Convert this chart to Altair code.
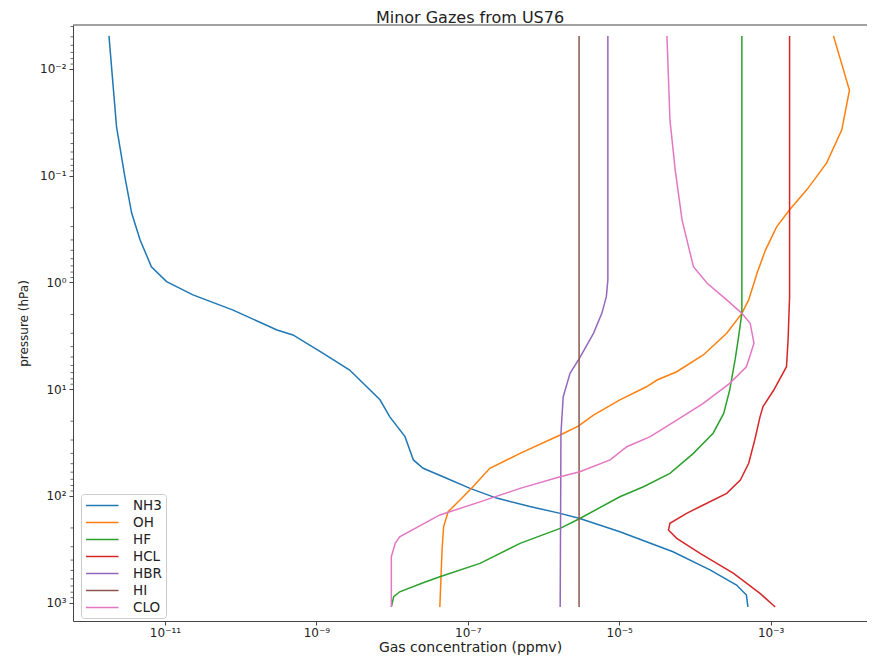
import altair as alt
import pandas as pd

# ---------------- data ----------------
gases = ["NH3", "OH", "HF", "HCL", "HBR", "HI", "CLO"]
colors = ["#1f77b4", "#ff7f0e", "#2ca02c", "#d62728", "#9467bd", "#8c564b", "#e377c2"]

nh3_p = [4.90e-3, 3.47e-2, 0.102, 0.224, 0.398, 0.713, 0.984, 1.31, 1.82, 2.79, 3.11, 4.62,
         6.62, 12.6, 18.2, 27.9, 46.1, 55.2, 68.5, 85.1, 105, 126, 146, 163, 217, 334, 495,
         685, 851, 1100]
nh3_c = [1.82e-12, 2.29e-12, 2.95e-12, 3.63e-12, 4.68e-12, 6.61e-12, 1.05e-11, 2.34e-11,
         7.94e-11, 3.02e-10, 4.90e-10, 1.23e-9, 2.75e-9, 6.92e-9, 9.33e-9, 1.48e-8, 1.91e-8,
         2.57e-8, 5.25e-8, 1.07e-7, 2.40e-7, 6.61e-7, 1.66e-6, 3.02e-6, 1.02e-5, 5.13e-5,
         1.58e-4, 3.55e-4, 4.79e-4, 5.01e-4]

oh_p = [4.90e-3, 1.58e-2, 3.72e-2, 7.59e-2, 0.135, 0.209, 0.302, 0.501, 0.822, 1.46, 1.95,
        3.00, 4.79, 6.87, 8.22, 9.51, 12.6, 17.5, 22.2, 26.9, 40.0, 55.2, 82.2, 109, 141, 195,
        322, 1100]
oh_c = [6.76e-3, 1.10e-2, 8.71e-3, 5.50e-3, 3.02e-3, 1.78e-3, 1.20e-3, 8.51e-4, 6.61e-4,
        5.13e-4, 4.17e-4, 2.63e-4, 1.29e-4, 5.75e-5, 3.16e-5, 2.29e-5, 1.02e-5, 4.57e-6,
        2.88e-6, 1.66e-6, 4.90e-7, 1.95e-7, 1.17e-7, 7.94e-8, 5.50e-8, 4.79e-8, 4.57e-8,
        4.27e-8]

hf_p = [4.90e-3, 1.94, 3.47, 5.33, 10.2, 16.9, 25.9, 40.0, 61.5, 82.2, 102, 163, 202, 279,
        430, 573, 652, 793, 883, 1100]
hf_c = [4.17e-4, 4.17e-4, 3.72e-4, 3.39e-4, 2.88e-4, 2.40e-4, 1.74e-4, 9.55e-5, 4.68e-5,
        2.09e-5, 1.02e-5, 3.02e-6, 1.66e-6, 4.90e-7, 1.45e-7, 4.27e-8, 2.57e-8, 1.26e-8,
        1.05e-8, 9.77e-9]

hcl_p = [4.90e-3, 1.36, 3.47, 6.17, 10.2, 14.6, 18.2, 30.0, 49.5, 71.1, 94.8, 122, 146, 181,
         209, 250, 346, 533, 820, 1100]
hcl_c = [1.78e-3, 1.78e-3, 1.70e-3, 1.62e-3, 1.10e-3, 7.94e-4, 7.24e-4, 6.17e-4, 5.13e-4,
         3.98e-4, 2.63e-4, 1.29e-4, 7.76e-5, 4.68e-5, 4.47e-5, 5.75e-5, 1.17e-4, 3.24e-4,
         7.24e-4, 1.15e-3]

hbr_p = [4.90e-3, 0.951, 1.36, 1.95, 3.00, 5.06, 7.11, 11.8, 25.9, 1100]
hbr_c = [7.08e-6, 7.08e-6, 6.76e-6, 5.89e-6, 4.57e-6, 3.02e-6, 2.24e-6, 1.82e-6, 1.70e-6,
         1.66e-6]

hi_p = [4.90e-3, 1100]
hi_c = [2.95e-6, 2.95e-6]

clo_p = [4.90e-3, 3.02e-2, 8.91e-2, 0.260, 0.713, 1.02, 1.46, 1.95, 2.42, 3.72, 6.17, 8.83,
         13.6, 19.5, 27.9, 34.7, 46.1, 59.4, 66.2, 85.1, 114, 151, 242, 279, 372, 1100]
clo_c = [4.27e-5, 4.68e-5, 5.50e-5, 6.76e-5, 9.55e-5, 1.45e-4, 2.63e-4, 4.17e-4, 5.37e-4,
         6.03e-4, 4.79e-4, 2.88e-4, 1.29e-4, 5.75e-5, 2.57e-5, 1.26e-5, 7.59e-6, 3.02e-6,
         1.66e-6, 4.90e-7, 1.45e-7, 4.27e-8, 1.26e-8, 1.10e-8, 9.77e-9, 9.77e-9]

x_ticks = [1e-11, 1e-9, 1e-7, 1e-5, 1e-3]
y_ticks = [1e-2, 1e-1, 1e0, 1e1, 1e2, 1e3]

# ---------------- table ----------------
series = [("NH3", nh3_p, nh3_c), ("OH", oh_p, oh_c), ("HF", hf_p, hf_c),
          ("HCL", hcl_p, hcl_c), ("HBR", hbr_p, hbr_c), ("HI", hi_p, hi_c),
          ("CLO", clo_p, clo_c)]
rows = []
for name, ps, cs in series:
    for i, (p, c) in enumerate(zip(ps, cs)):
        rows.append({"gas": name, "p": p, "c": c, "i": i})
df = pd.DataFrame(rows)

minor_vals = [m * 10.0 ** k for k in range(-3, 4) for m in range(2, 10)]
minor_vals = [v for v in minor_vals if 10 ** -2.412 <= v <= 10 ** 3.173]
minor_df = pd.DataFrame({"m": minor_vals})
spine_df = pd.DataFrame({"s": [0]})

FONT = "DejaVu Sans"
AX = "#444444"
TXT = "#222222"
W, H = 794, 596

x_scale = alt.Scale(type="log", domain=[10 ** -12.215, 10 ** -1.727], nice=False)
y_scale = alt.Scale(type="log", domain=[10 ** -2.412, 10 ** 3.173], nice=False, reverse=True)

x_label_expr = ("{'-11':'10⁻¹¹','-9':'10⁻⁹','-7':'10⁻⁷','-5':'10⁻⁵','-3':'10⁻³'}"
                "[''+round(log(datum.value)/LN10)]")
y_label_expr = ("{'-2':'10⁻²','-1':'10⁻¹','0':'10⁰','1':'10¹','2':'10²','3':'10³'}"
                "[''+round(log(datum.value)/LN10)]")

lines = alt.Chart(df).mark_line(strokeWidth=1.5, clip=True).encode(
    x=alt.X("c:Q", scale=x_scale,
            axis=alt.Axis(values=x_ticks, labelExpr=x_label_expr, grid=False,
                          tickSize=4, tickColor=AX, domainColor=AX, labelColor=TXT,
                          labelFont=FONT, labelFontSize=12, labelPadding=2,
                          title="Gas concentration (ppmv)", titleFont=FONT,
                          titleFontSize=14, titleFontWeight="normal", titleColor=TXT,
                          titleBaseline="alphabetic", titleY=30)),
    y=alt.Y("p:Q", scale=y_scale,
            axis=alt.Axis(values=y_ticks, labelExpr=y_label_expr, grid=False,
                          orient="left",
                          tickSize=4, tickColor=AX, domainColor=AX, labelColor=TXT,
                          labelFont=FONT, labelFontSize=12, labelPadding=3,
                          title="pressure (hPa)", titleFont=FONT, titleFontSize=12,
                          titleFontWeight="normal", titleColor=TXT, titleAngle=270,
                          titleAlign="center", titleBaseline="middle",
                          titleX=-50, titleY=298)),
    color=alt.Color("gas:N", scale=alt.Scale(domain=gases, range=colors),
                    legend=alt.Legend(title=None, orient="none", legendX=8, legendY=469,
                                      symbolType="M-1,0L4,0", symbolSize=169,
                                      symbolStrokeWidth=1.5, labelOffset=33,
                                      labelFont=FONT, labelFontSize=13.5, labelColor=TXT,
                                      padding=4, rowPadding=3, strokeColor="#cccccc",
                                      fillColor="rgba(255,255,255,0.8)", cornerRadius=3)),
    order=alt.Order("i:Q"),
)

minor = alt.Chart(minor_df).mark_rule(color=AX, strokeWidth=0.8).encode(
    y=alt.Y("m:Q", scale=y_scale),
    x=alt.value(0),
    x2=alt.value(-2.5),
)

# top spine of the frame (single rule)
top_spine = alt.Chart(spine_df).mark_rule(color=AX, strokeWidth=1).encode(
    y=alt.value(0),
    x=alt.value(0),
    x2=alt.value(W),
)

chart = alt.layer(lines, minor, top_spine).properties(
    width=W,
    height=H,
    autosize=alt.AutoSizeParams(type="none"),
    padding={"left": 65, "top": 17, "right": 0, "bottom": 34},
    title=alt.Title("Minor Gazes from US76", font=FONT, fontSize=16, fontWeight="normal",
                    color=TXT, anchor="middle", offset=0, dy=1),
).configure_view(strokeWidth=0)

chart.save("out.html", embed_options={"renderer": "svg", "actions": False})
